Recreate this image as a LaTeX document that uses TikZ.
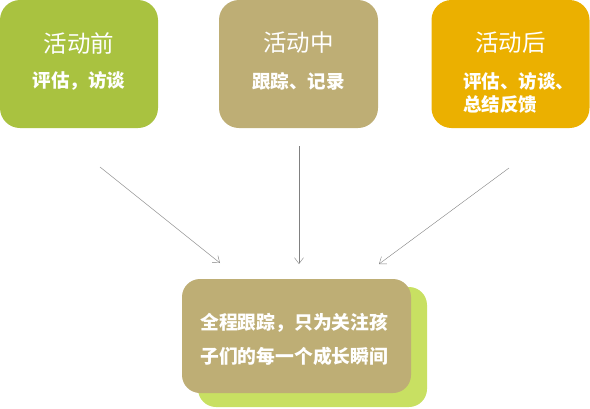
\documentclass[tikz,border=0pt]{standalone}
\usepackage{fontspec}
\usepackage{tikz}
\usetikzlibrary{arrows,arrows.meta,positioning}
\newfontfamily\cjk{Noto Sans CJK SC}
\definecolor{preGreen}{HTML}{A9C240}
\definecolor{midTan}{HTML}{BEAE75}
\definecolor{postGold}{HTML}{EBB000}
\definecolor{shadowGreen}{HTML}{C8E062}
\tikzstyle{phase}=[rectangle,rounded corners=20pt,minimum width=158pt,minimum height=128pt,inner sep=0pt,outer sep=0pt]
\tikzstyle{title}=[text=white,font=\cjk\fontsize{23.5}{24}\selectfont,inner sep=0pt]
\tikzstyle{sub}=[text=white,font=\cjk\bfseries\fontsize{18.5}{23}\selectfont,inner sep=0pt]
\tikzstyle{link}=[-{Straight Barb[length=6pt,width=9pt]},draw=gray,thin]
\begin{document}
\begin{tikzpicture}[x=1pt,y=-1pt]
        \useasboundingbox (0,0) rectangle (590,408);
        \node (pre) [phase, fill=preGreen] at (79,64) {};
        \node (mid) [phase, fill=midTan, minimum width=159pt] at (298.5,64) {};
        \node (post) [phase, fill=postGold] at (510.5,64) {};
        \node (shadow) [phase, fill=shadowGreen, rounded corners=18pt, minimum width=229pt, minimum height=120pt] at (312.5,347) {};
        \node (goal) [phase, fill=midTan, rounded corners=18pt, minimum width=229pt, minimum height=114pt] at (296.5,336) {};

        \node (preT) [title] at ([yshift=21pt]pre.center) {活动前};
        \node (preS) [sub] at ([yshift=-17pt]pre.center) {评估，访谈};
        \node (midT) [title] at ([yshift=21pt]mid.center) {活动中};
        \node (midS) [sub] at ([yshift=-17pt]mid.center) {跟踪、记录};
        \node (postT) [title] at ([yshift=21pt]post.center) {活动后};
        \node (postS) [sub, align=left, anchor=west] at (463,92.5) {评估、访谈、\\总结反馈};
        \node (goalT) [sub, align=left, anchor=west, font=\cjk\bfseries\fontsize{18.8}{34}\selectfont] at (200,339) {全程跟踪，只为关注孩\\子们的每一个成长瞬间};

        \coordinate (preA) at (100,167);
        \coordinate (midA) at (299,146);
        \coordinate (postA) at (509,168);
        \coordinate (preB) at (220,263);
        \coordinate (midB) at (299,264);
        \coordinate (postB) at (379,264);
        \draw[link] (preA) -- (preB);
        \draw[link] (midA) -- (midB);
        \draw[link] (postA) -- (postB);
    \end{tikzpicture}
\end{document}
